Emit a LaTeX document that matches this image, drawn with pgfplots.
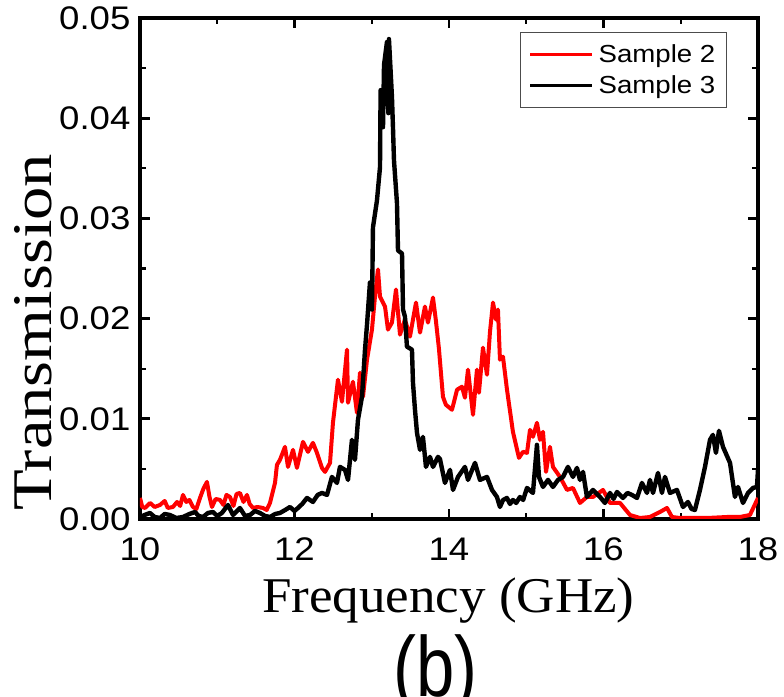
\documentclass[border=0pt]{standalone}
\usepackage{fontspec}
\setmainfont{Liberation Sans}[FakeStretch=1.12]
\newfontfamily\seriffont{Liberation Serif}
\usepackage{pgfplots}
\pgfplotsset{compat=1.18}
\definecolor{sampred}{RGB}{255,0,0}

\begin{document}
\begin{tikzpicture}
\begin{axis}[
  scale only axis,
  width=463.5pt, height=375.75pt,
  xmin=10, xmax=18, ymin=0, ymax=0.05,
  xtick={10,12,14,16,18}, minor xtick={11,13,15,17},
  ytick={0,0.01,0.02,0.03,0.04,0.05},
  minor ytick={0.005,0.015,0.025,0.035,0.045},
  scaled y ticks=false,
  tick align=inside, tick pos=both,
  major tick length=7.5pt, minor tick length=4.5pt,
  major tick style={line width=2pt, black},
  minor tick style={line width=1.6pt, black},
  axis line style={line width=2.5pt},
  /pgf/number format/assume math mode=true,
  yticklabel style={/pgf/number format/.cd, fixed, fixed zerofill, precision=2, /tikz/.cd,
    anchor=east, inner sep=0pt, xshift=-7pt, font=\fontsize{24.5}{24}\selectfont},
  xticklabel style={anchor=north, inner sep=0pt, yshift=-14pt, font=\fontsize{24.5}{24}\selectfont},
  xlabel={\seriffont\scalebox{1.06}[1]{Frequency (GHz)}},
  xlabel style={at={(axis description cs:0.499,-0.1876)}, anchor=base, inner sep=0pt,
    font=\fontsize{37.5}{40}\selectfont},
  ylabel={\seriffont\scalebox{1.19}[1]{Transmission}},
  ylabel style={at={(axis description cs:-0.1424,0.373)}, anchor=base, inner sep=0pt,
    font=\fontsize{42}{44}\selectfont},
  legend style={at={(rel axis cs:0.950,0.972)}, anchor=north east,
    draw=black!70, line width=0.6pt, inner xsep=6.5pt, inner ysep=7pt,
    font=\fontsize{18.5}{20}\selectfont, row sep=4.4pt, column sep=2pt,
    nodes={inner sep=2pt}},
  legend cell align=left,
  legend image code/.code={\draw[#1, line width=2.4pt] (0pt,0pt) -- (46pt,0pt);},
]
  %% Sample 2
  \addplot[sampred, line width=3pt, line join=round] coordinates {
    (10.000,0.0021)(10.030,0.0012)(10.065,0.0011)(10.130,0.0016)(10.190,0.0012)
    (10.259,0.0014)(10.320,0.0018)(10.360,0.0011)(10.427,0.0012)(10.480,0.0017)
    (10.520,0.0013)(10.557,0.0024)(10.600,0.0017)(10.640,0.0019)(10.686,0.0012)
    (10.730,0.0010)(10.777,0.0021)(10.820,0.0030)(10.867,0.0037)(10.900,0.0022)
    (10.932,0.0012)(10.980,0.0020)(11.036,0.0019)(11.080,0.0014)(11.120,0.0024)
    (11.165,0.0022)(11.210,0.0013)(11.250,0.0025)(11.294,0.0026)(11.340,0.0017)
    (11.385,0.0024)(11.420,0.0015)(11.463,0.0011)(11.520,0.0012)(11.592,0.0011)
    (11.640,0.0009)(11.683,0.0016)(11.748,0.0036)(11.773,0.0054)(11.812,0.0059)
    (11.877,0.0072)(11.916,0.0052)(11.981,0.0069)(12.032,0.0051)(12.110,0.0077)
    (12.175,0.0067)(12.239,0.0076)(12.291,0.0066)(12.356,0.0051)(12.395,0.0047)
    (12.460,0.0056)(12.498,0.0096)(12.563,0.0139)(12.615,0.0117)(12.680,0.0169)
    (12.693,0.0116)(12.757,0.0137)(12.809,0.0106)(12.848,0.0146)(12.887,0.0122)
    (12.939,0.0159)(13.003,0.0189)(13.042,0.0222)(13.081,0.0249)(13.107,0.0222)
    (13.172,0.0212)(13.210,0.0189)(13.262,0.0196)(13.314,0.0229)(13.366,0.0184)
    (13.430,0.0199)(13.495,0.0182)(13.573,0.0216)(13.625,0.0186)(13.689,0.0212)
    (13.728,0.0196)(13.793,0.0221)(13.832,0.0197)(13.870,0.0170)(13.922,0.0122)
    (13.960,0.0114)(14.039,0.0109)(14.104,0.0129)(14.168,0.0132)(14.207,0.0121)
    (14.246,0.0149)(14.311,0.0104)(14.362,0.0149)(14.388,0.0126)(14.440,0.0171)
    (14.492,0.0144)(14.531,0.0187)(14.570,0.0216)(14.608,0.0199)(14.634,0.0209)
    (14.660,0.0159)(14.699,0.0162)(14.751,0.0129)(14.828,0.0087)(14.906,0.0061)
    (14.958,0.0067)(15.010,0.0066)(15.049,0.0089)(15.087,0.0082)(15.139,0.0096)
    (15.178,0.0079)(15.217,0.0087)(15.256,0.0047)(15.307,0.0072)(15.346,0.0052)
    (15.437,0.0042)(15.528,0.0029)(15.605,0.0031)(15.696,0.0016)(15.786,0.0022)
    (15.864,0.0022)(15.994,0.0029)(16.084,0.0016)(16.214,0.0016)(16.343,0.0004)
    (16.472,0.0001)(16.602,0.0002)(16.731,0.0007)(16.822,0.0011)(16.887,0.0002)
    (16.990,0.0001)(17.340,0.0001)(17.599,0.0002)(17.767,0.0002)(17.896,0.0004)
    (18.000,0.0021)
  };
  \addlegendentry{Sample 2}
  %% Sample 3
  \addplot[black, line width=3.3pt, line join=round] coordinates {
    (10.000,0.0002)(10.060,0.0004)(10.129,0.0006)(10.190,0.0002)(10.259,0.0001)
    (10.320,0.0005)(10.388,0.0004)(10.470,0.0001)(10.557,0.0002)(10.640,0.0005)
    (10.712,0.0007)(10.760,0.0003)(10.816,0.0002)(10.880,0.0006)(10.945,0.0007)
    (11.000,0.0003)(11.061,0.0006)(11.139,0.0014)(11.204,0.0004)(11.294,0.0011)
    (11.360,0.0003)(11.424,0.0004)(11.490,0.0008)(11.553,0.0006)(11.620,0.0003)
    (11.683,0.0002)(11.750,0.0005)(11.812,0.0006)(11.880,0.0009)(11.942,0.0012)
    (12.000,0.0008)(12.045,0.0011)(12.100,0.0015)(12.162,0.0021)(12.239,0.0017)
    (12.300,0.0024)(12.356,0.0026)(12.421,0.0024)(12.485,0.0042)(12.550,0.0036)
    (12.589,0.0052)(12.654,0.0049)(12.693,0.0039)(12.744,0.0079)(12.783,0.0059)
    (12.822,0.0099)(12.874,0.0122)(12.913,0.0169)(12.939,0.0194)(12.977,0.0236)
    (13.003,0.0209)(13.016,0.0291)(13.068,0.0318)(13.107,0.0351)(13.115,0.0428)
    (13.146,0.0391)(13.159,0.0453)(13.197,0.0476)(13.215,0.0405)(13.223,0.0479)
    (13.262,0.0421)(13.275,0.0391)(13.288,0.0358)(13.327,0.0315)(13.340,0.0268)
    (13.392,0.0265)(13.405,0.0209)(13.430,0.0202)(13.456,0.0172)(13.521,0.0169)
    (13.534,0.0136)(13.560,0.0109)(13.586,0.0086)(13.625,0.0069)(13.663,0.0082)
    (13.702,0.0052)(13.754,0.0062)(13.793,0.0052)(13.858,0.0062)(13.883,0.0060)
    (13.948,0.0036)(14.013,0.0049)(14.052,0.0029)(14.117,0.0042)(14.207,0.0052)
    (14.246,0.0039)(14.337,0.0056)(14.401,0.0039)(14.492,0.0042)(14.557,0.0029)
    (14.621,0.0022)(14.660,0.0012)(14.700,0.0019)(14.751,0.0021)(14.790,0.0015)
    (14.828,0.0019)(14.870,0.0016)(14.919,0.0022)(14.960,0.0019)(15.010,0.0031)
    (15.087,0.0026)(15.139,0.0074)(15.165,0.0042)(15.217,0.0032)(15.282,0.0039)
    (15.346,0.0032)(15.411,0.0039)(15.476,0.0042)(15.540,0.0052)(15.605,0.0042)
    (15.657,0.0051)(15.696,0.0039)(15.735,0.0047)(15.786,0.0022)(15.864,0.0029)
    (15.955,0.0022)(16.019,0.0016)(16.084,0.0026)(16.130,0.0020)(16.175,0.0027)
    (16.252,0.0021)(16.310,0.0026)(16.369,0.0024)(16.434,0.0021)(16.498,0.0036)
    (16.563,0.0026)(16.602,0.0039)(16.641,0.0026)(16.706,0.0046)(16.757,0.0026)
    (16.796,0.0042)(16.861,0.0026)(16.951,0.0029)(17.029,0.0012)(17.094,0.0017)
    (17.140,0.0010)(17.184,0.0009)(17.249,0.0029)(17.314,0.0052)(17.379,0.0079)
    (17.417,0.0084)(17.456,0.0066)(17.495,0.0088)(17.547,0.0072)(17.638,0.0056)
    (17.702,0.0022)(17.741,0.0032)(17.806,0.0016)(17.871,0.0026)(17.935,0.0031)
    (17.987,0.0032)(18.000,0.0049)
  };
  \addlegendentry{Sample 3}
  \coordinate (bbsw) at (rel axis cs:-0.2265,-0.3533);
  \coordinate (bbne) at (rel axis cs:1.0421,1.0359);
  \coordinate (bpos) at (rel axis cs:0.478,-0.354);
\end{axis}
\node[anchor=base, inner sep=0pt, font=\fontsize{64}{64}\selectfont]
  at (bpos) {\scalebox{0.72}[1]{(b)}};
\pgfresetboundingbox
\useasboundingbox (bbsw) rectangle (bbne);
\end{tikzpicture}
\end{document}
